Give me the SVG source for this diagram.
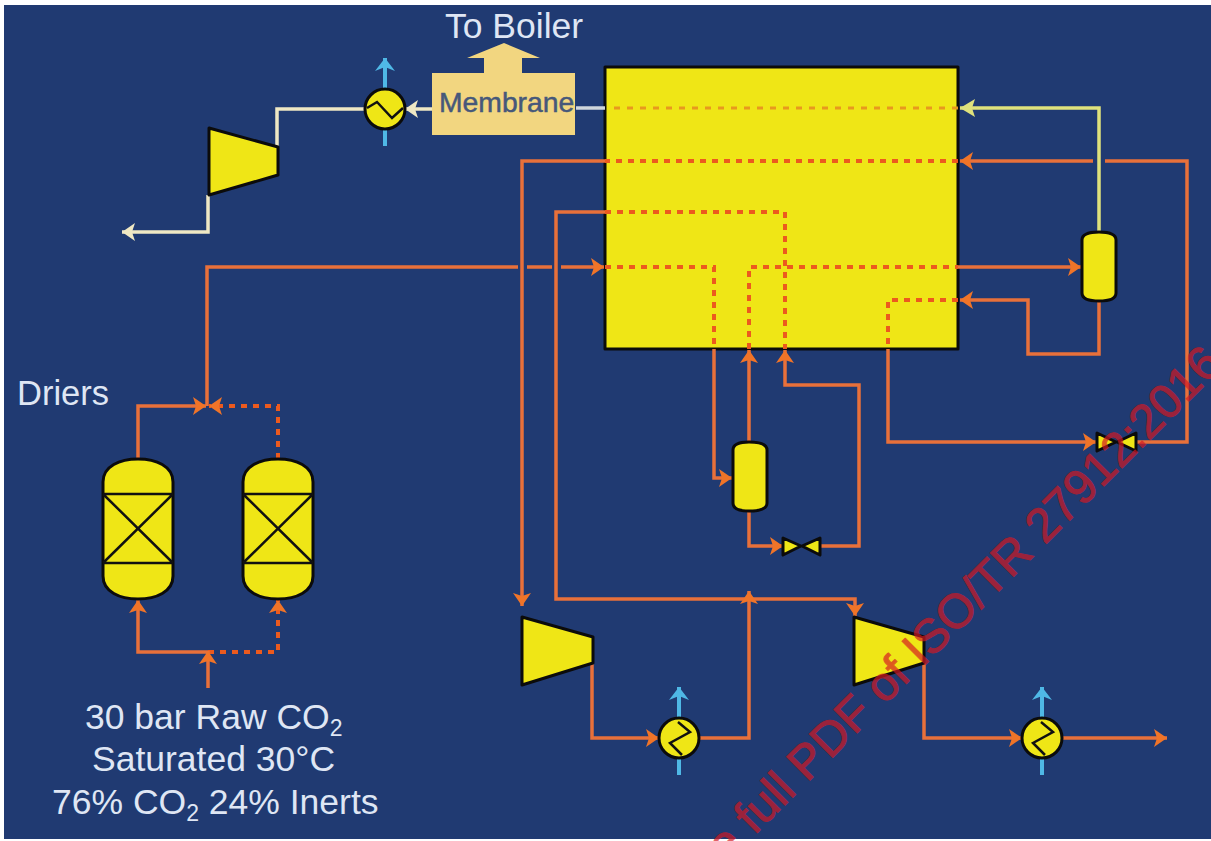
<svg xmlns="http://www.w3.org/2000/svg" width="1211" height="841" viewBox="0 0 1211 841">
<style>
.t{font-family:"Liberation Sans",Arial,sans-serif;fill:#dfe6f4}
.eq{fill:#efe616;stroke:#0b0b0b;stroke-width:3;stroke-linejoin:round}
.in{fill:none;stroke:#111;stroke-width:2.5}
.o{fill:none;stroke:#e8703a;stroke-width:3.5}
.d{fill:none;stroke:#ec5a1e;stroke-width:4;stroke-dasharray:6 6}
.c{fill:none;stroke:#efe8c4;stroke-width:3.5}
.l{fill:none;stroke:#dfe27c;stroke-width:3.5}
.b{fill:none;stroke:#4fb8e6;stroke-width:4}
</style>
<defs>
<marker id="ao" markerUnits="userSpaceOnUse" markerWidth="15" markerHeight="20" refX="13" refY="9" orient="auto"><path d="M0,0 L13,9 L0,18 L3,9 Z" fill="#f07428"/></marker>
<marker id="ac" markerUnits="userSpaceOnUse" markerWidth="15" markerHeight="20" refX="13" refY="9" orient="auto"><path d="M0,0 L13,9 L0,18 L3,9 Z" fill="#efe8c4"/></marker>
<marker id="al" markerUnits="userSpaceOnUse" markerWidth="16" markerHeight="20" refX="15" refY="9" orient="auto"><path d="M0,0 L15,9 L0,18 L3,9 Z" fill="#dfe27c"/></marker>
<marker id="ab" markerUnits="userSpaceOnUse" markerWidth="14" markerHeight="22" refX="13" refY="10" orient="auto"><path d="M0,0 L13,10 L0,20 L4,10 Z" fill="#4fb8e6"/></marker>
</defs>
<rect width="1211" height="841" fill="#fff"/>
<rect x="4" y="5" width="1207" height="834" fill="#203a72"/>

<g id="coldbox"><rect class="eq" x="605" y="67" width="353" height="282"/></g>

<g id="connectors">
<path class="c" d="M605,108 H576" style="stroke:#cfd6dc"/>
<path class="c" d="M432,109 H405" marker-end="url(#ac)"/>
<path class="c" d="M365,109 H277 V147"/>
<path class="c" d="M208,195 V232 H122" marker-end="url(#ac)"/>
<path class="l" d="M1099,232 V108 H960" marker-end="url(#al)"/>
<path d="M958,108 H614" fill="none" stroke="#e8981e" stroke-width="3" stroke-dasharray="6 7"/>
<path class="b" d="M385,146 V58" marker-end="url(#ab)"/>
<path class="b" d="M679,775 V687" marker-end="url(#ab)"/>
<path class="b" d="M1042,775 V687" marker-end="url(#ab)"/>

<path class="o" d="M605,161 H522 V606" marker-end="url(#ao)"/>
<path class="d" d="M958,161 H605"/>
<path class="o" d="M605,212 H556 V599 H855 V616" marker-end="url(#ao)"/>
<path class="d" d="M605,212 H785 V349"/>
<path class="o" d="M207,406 V267 H518 M527,267 H552 M561,267 H590"/>
<path class="o" d="M590,267 H604" marker-end="url(#ao)"/>
<path class="d" d="M605,267 H714 V349"/>
<path class="o" d="M714,349 V478 H732" marker-end="url(#ao)"/>
<path class="o" d="M749,442 V350" marker-end="url(#ao)"/>
<path class="d" d="M749,349 V267 H958"/>
<path class="o" d="M958,267 H1081" marker-end="url(#ao)"/>
<path class="o" d="M1099,301 V354 H1028 V300 H960" marker-end="url(#ao)"/>
<path class="d" d="M958,300 H888 V349"/>
<path class="o" d="M888,349 V442 H1096" marker-end="url(#ao)"/>
<path class="o" d="M1136,442 H1187 V161 H1105 M1093,161 H960" marker-end="url(#ao)"/>
<path class="o" d="M749,511 V546 H783" marker-end="url(#ao)"/>
<path class="o" d="M820,546 H859 V385 H785 V350" marker-end="url(#ao)"/>
<path class="o" d="M592,663 V738 H659" marker-end="url(#ao)"/>
<path class="o" d="M699,738 H749 V591" marker-end="url(#ao)"/>
<path class="o" d="M924,663 V738 H1022" marker-end="url(#ao)"/>
<path class="o" d="M1062,738 H1167" marker-end="url(#ao)"/>
<path class="o" d="M138,459 V406 H206" marker-end="url(#ao)"/>
<path class="d" d="M278,459 V406 H209" marker-end="url(#ao)"/>
<path class="o" d="M208,652 H138 V600" marker-end="url(#ao)"/>
<path class="d" d="M208,652 H278 V600" marker-end="url(#ao)"/>
<path class="o" d="M208,688 V651" marker-end="url(#ao)"/>
</g>

<g id="membrane">
<path d="M432,73 H484 V58 H467 L504,43 L540,58 H522 V73 H575 V135 H432 Z" fill="#f2d680"/>
<text x="439" y="112" font-family="Liberation Sans, Arial, sans-serif" font-size="28.3" fill="#46587a" stroke="#46587a" stroke-width="0.5">Membrane</text>
</g>
<g id="to-boiler"><text class="t" x="445" y="38" font-size="35.5">To Boiler</text></g>

<g id="compressor-1"><path class="eq" d="M209,128 L278,147 V175 L209,195 Z"/></g>
<g id="compressor-2"><path class="eq" d="M522,617 L593,637 V663 L522,685 Z"/></g>
<g id="compressor-3"><path class="eq" d="M854,617 L924,637 V663 L854,685 Z"/></g>

<g id="cooler-1"><circle class="eq" cx="385" cy="109" r="20"/><path class="in" d="M367,108 L377,102 L392,118 L403,108"/></g>
<g id="cooler-2"><circle class="eq" cx="679" cy="738" r="20"/><path class="in" d="M678,722 L690,732 L670,743 L682,755"/></g>
<g id="cooler-3"><circle class="eq" cx="1042" cy="738" r="20"/><path class="in" d="M1041,722 L1053,732 L1033,743 L1045,755"/></g>

<g id="vessel-2"><path class="eq" d="M733,450 Q733,442 749,442 Q767,442 767,450 V503 Q767,511 749,511 Q733,511 733,503 Z"/></g>
<g id="vessel-3"><path class="eq" d="M1082,240 Q1082,232 1099,232 Q1116,232 1116,240 V293 Q1116,301 1099,301 Q1082,301 1082,293 Z"/></g>

<g id="valve-1"><path class="eq" d="M1097,433 L1116,442 L1097,451 Z M1136,433 L1117,442 L1136,451 Z"/></g>
<g id="valve-2"><path class="eq" d="M783,538 L801,546 L783,555 Z M820,538 L802,546 L820,555 Z"/></g>

<g id="drier-1">
<path class="eq" d="M103,482 C103,466 120,459 138,459 C156,459 173,466 173,482 V576 C173,592 156,599 138,599 C120,599 103,592 103,576 Z"/>
<path class="in" d="M103,494 H173 M103,563 H173 M103,494 L173,563 M173,494 L103,563"/>
</g>
<g id="drier-2">
<path class="eq" d="M243,482 C243,466 260,459 278,459 C296,459 313,466 313,482 V576 C313,592 296,599 278,599 C260,599 243,592 243,576 Z"/>
<path class="in" d="M243,494 H313 M243,563 H313 M243,494 L313,563 M313,494 L243,563"/>
</g>

<g id="labels">
<text class="t" x="17" y="405" font-size="34.5">Driers</text>
<text class="t" x="85" y="729" font-size="35.5">30 bar Raw CO<tspan font-size="23" dy="7">2</tspan></text>
<text class="t" x="92" y="771" font-size="35.5">Saturated 30°C</text>
<text class="t" x="52" y="814" font-size="35.5">76% CO<tspan font-size="23" dy="7">2</tspan><tspan dy="-7"> 24% Inerts</tspan></text>
</g>

<text id="watermark" transform="translate(726,864) rotate(-45)" font-family="Liberation Sans, Arial, sans-serif" font-size="48" fill="#d51822" stroke="#d51822" stroke-width="1" opacity="0.68">e full PDF of ISO/TR 27912:2016</text>
</svg>
